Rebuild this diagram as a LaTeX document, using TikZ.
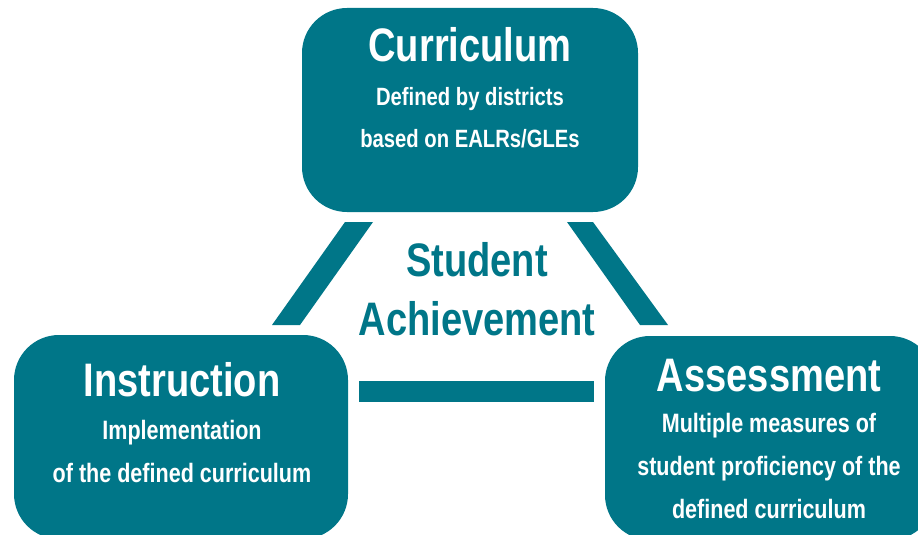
\documentclass[tikz,border=0pt]{standalone}
\usepackage{fontspec}
\newfontfamily\condfont{Liberation Sans}[FakeStretch=0.81]
\usetikzlibrary{positioning, calc}
\definecolor{sbteal}{RGB}{0, 118, 136}

\begin{document}
\begin{tikzpicture}[x=1pt, y=-1pt]
    \tikzstyle{area} = [rectangle, rounded corners=45pt, fill=sbteal, inner sep=0pt, minimum width=334pt, minimum height=204pt]
    \tikzstyle{head} = [anchor=base, inner sep=0pt, text=white, font=\condfont\bfseries\fontsize{47}{47}\selectfont]
    \tikzstyle{note} = [anchor=base, inner sep=0pt, text=white, align=center, font=\condfont\bfseries\fontsize{25}{42}\selectfont]
    \tikzstyle{wide} = [font=\condfont\bfseries\fontsize{26.6}{43}\selectfont]
    \tikzstyle{core} = [anchor=base, inner sep=0pt, text=sbteal, font=\condfont\bfseries\fontsize{47}{47}\selectfont]
    \tikzstyle{bar} = [fill=sbteal]

    \useasboundingbox (0,0) rectangle (918,535);

    % the three boxes
    \node[area, minimum width=336pt] (cur) at (470,110) {};
    \node[area] (ins) at (181,437) {};
    \node[area, minimum width=330pt] (ass) at (770,438) {};

    % texts, placed at the baseline of their last line
    \node[head] (curT) at (470,62) {Curriculum};
    \node[note] (curS) at (470,147) {Defined by districts\\based on EALRs/GLEs};
    \node[head] (insT) at (182,396) {Instruction};
    \node[note, wide] (insS) at (182,482) {Implementation\\of the defined curriculum};
    \node[head] (assT) at (769,391) {Assessment};
    \node[note, wide] (assS) at (769,518) {Multiple measures of\\student proficiency of the\\defined curriculum};

    % centre
    \node[core] (stu) at (477,276) {Student};
    \node[core] (ach) at (477,335) {Achievement};

    % bars between the boxes
    \coordinate (lt) at (359,222);
    \coordinate (lb) at (286,325);
    \coordinate (rt) at (580,222);
    \coordinate (rb) at (654,325);
    \coordinate (hl) at (359,391);
    \coordinate (hr) at (594,391);
    \fill[bar] ($(lt)+(-14,0)$) -- ($(lt)+(14,0)$) -- ($(lb)+(14,0)$) -- ($(lb)+(-14,0)$) -- cycle;
    \fill[bar] ($(rt)+(-13,0)$) -- ($(rt)+(13,0)$) -- ($(rb)+(14,0)$) -- ($(rb)+(-14,0)$) -- cycle;
    \fill[bar] ($(hl)+(0,-10.5)$) rectangle ($(hr)+(0,10.5)$);
\end{tikzpicture}
\end{document}
